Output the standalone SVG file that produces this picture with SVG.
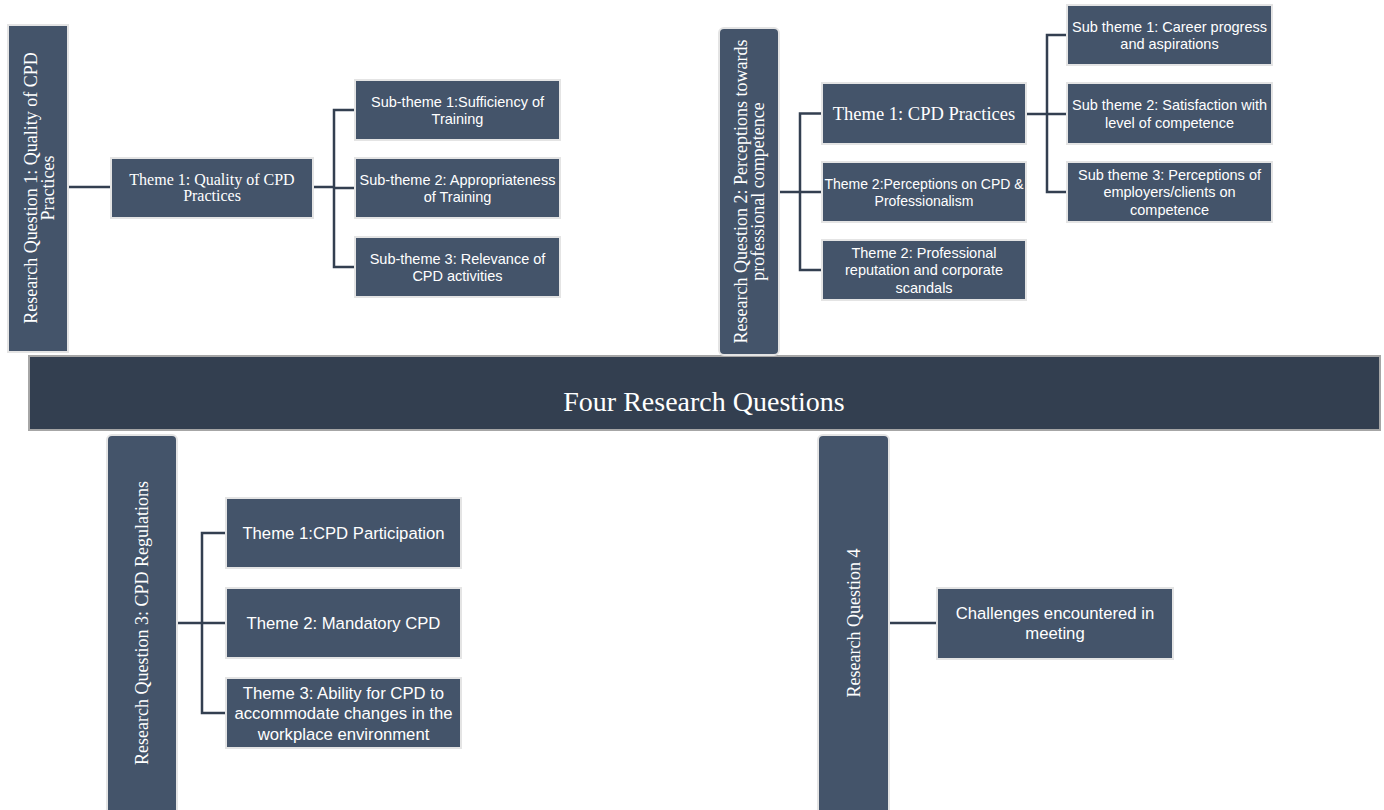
<svg xmlns="http://www.w3.org/2000/svg" width="1384" height="810" viewBox="0 0 1384 810">
<style>
.n{fill:#44546a;stroke:#e4e4e4;stroke-width:2}
.bar{fill:#333f50;stroke:#a6a6a6;stroke-width:2}
.c{fill:none;stroke:#333f50;stroke-width:2.5}
.s{font-family:"Liberation Serif","Times New Roman",serif;fill:#ffffff;text-anchor:middle}
.a{font-family:"Liberation Sans",Arial,sans-serif;fill:#ffffff;text-anchor:middle;font-size:14.5px}
.b{font-family:"Liberation Sans",Arial,sans-serif;fill:#ffffff;text-anchor:middle;font-size:16.7px}
</style>
<rect width="1384" height="810" fill="#ffffff"/>
<g id="connectors">
<path class="c" d="M68,187 H111 M313,187 H334 M355,110 H334 V267 H355 M334,188 H355"/>
<path class="c" d="M779,192 H822 M822,113.5 H800 V270 H822 M1026,114 H1067 M1067,35 H1047 V192 H1067"/>
<path class="c" d="M177,623 H226 M226,533 H202 V713 H226"/>
<path class="c" d="M889,623 H937"/>
</g>
<g id="main">
<rect class="bar" x="29" y="356" width="1351" height="74"/>
<text class="s" x="704" y="411" font-size="28">Four Research Questions</text>
</g>
<g id="rq1">
<rect class="n" x="8" y="25" width="60" height="327"/>
<text class="s" font-size="18" transform="translate(38,188) rotate(-90)"><tspan x="0" y="-1">Research Question  1: Quality of CPD</tspan><tspan x="0" y="15.5">Practices</tspan></text>
</g>
<g id="rq1-theme1">
<rect class="n" x="111" y="158" width="202" height="60"/>
<text class="s" font-size="16"><tspan x="212" y="185">Theme 1: Quality of CPD</tspan><tspan x="212" y="200.5">Practices</tspan></text>
</g>
<g id="rq1-sub1">
<rect class="n" x="355" y="80" width="205" height="60"/>
<text class="a"><tspan x="457.5" y="106.5">Sub-theme 1:Sufficiency of</tspan><tspan x="457.5" y="124">Training</tspan></text>
</g>
<g id="rq1-sub2">
<rect class="n" x="355" y="158" width="205" height="60"/>
<text class="a"><tspan x="457.5" y="184.5">Sub-theme 2: Appropriateness</tspan><tspan x="457.5" y="202">of Training</tspan></text>
</g>
<g id="rq1-sub3">
<rect class="n" x="355" y="237" width="205" height="60"/>
<text class="a"><tspan x="457.5" y="263.5">Sub-theme 3: Relevance of</tspan><tspan x="457.5" y="281">CPD activities</tspan></text>
</g>
<g id="rq2">
<rect class="n" x="719" y="28" width="60" height="327" rx="5"/>
<text class="s" font-size="18" transform="translate(749,191.5) rotate(-90)"><tspan x="0" y="-2">Research Question  2: Perceptions towards</tspan><tspan x="0" y="14.5">professional  competence</tspan></text>
</g>
<g id="rq2-theme1">
<rect class="n" x="822" y="83" width="204" height="61"/>
<text class="s" font-size="18.5" x="924" y="120">Theme 1: CPD Practices</text>
</g>
<g id="rq2-theme2">
<rect class="n" x="822" y="162" width="204" height="60"/>
<text class="a" font-size="14"><tspan x="924" y="188.5" style="font-size:14px">Theme 2:Perceptions on CPD &amp;</tspan><tspan x="924" y="206" style="font-size:14px">Professionalism</tspan></text>
</g>
<g id="rq2-theme3">
<rect class="n" x="822" y="240" width="204" height="60"/>
<text class="a"><tspan x="924" y="257.7">Theme 2: Professional</tspan><tspan x="924" y="275.2">reputation and corporate</tspan><tspan x="924" y="292.7">scandals</tspan></text>
</g>
<g id="rq2-sub1">
<rect class="n" x="1067" y="5" width="205" height="60"/>
<text class="a"><tspan x="1169.5" y="31.5">Sub theme 1: Career progress</tspan><tspan x="1169.5" y="49">and aspirations</tspan></text>
</g>
<g id="rq2-sub2">
<rect class="n" x="1067" y="83" width="205" height="61"/>
<text class="a"><tspan x="1169.5" y="110">Sub theme 2: Satisfaction with</tspan><tspan x="1169.5" y="127.5">level of competence</tspan></text>
</g>
<g id="rq2-sub3">
<rect class="n" x="1067" y="162" width="205" height="60"/>
<text class="a"><tspan x="1169.5" y="179.7">Sub theme 3: Perceptions of</tspan><tspan x="1169.5" y="197.2">employers/clients on</tspan><tspan x="1169.5" y="214.7">competence</tspan></text>
</g>
<g id="rq3">
<rect class="n" x="107" y="435" width="70" height="385" rx="5"/>
<text class="s" font-size="18" transform="translate(142,623) rotate(-90)" x="0" y="6">Research Question  3: CPD Regulations</text>
</g>
<g id="rq3-theme1">
<rect class="n" x="226" y="498" width="235" height="70"/>
<text class="b" x="343.5" y="539">Theme 1:CPD Participation</text>
</g>
<g id="rq3-theme2">
<rect class="n" x="226" y="588" width="235" height="70"/>
<text class="b" x="343.5" y="629">Theme 2: Mandatory CPD</text>
</g>
<g id="rq3-theme3">
<rect class="n" x="226" y="678" width="235" height="70"/>
<text class="b"><tspan x="343.5" y="698.5">Theme 3: Ability for CPD to</tspan><tspan x="343.5" y="719">accommodate changes in the</tspan><tspan x="343.5" y="739.5">workplace environment</tspan></text>
</g>
<g id="rq4">
<rect class="n" x="818" y="435" width="71" height="385" rx="5"/>
<text class="s" font-size="18" transform="translate(853.5,623) rotate(-90)" x="0" y="6.5">Research Question 4</text>
</g>
<g id="rq4-theme1">
<rect class="n" x="937" y="588" width="236" height="71"/>
<text class="b"><tspan x="1055" y="618.5">Challenges encountered in</tspan><tspan x="1055" y="638.5">meeting</tspan></text>
</g>
</svg>
